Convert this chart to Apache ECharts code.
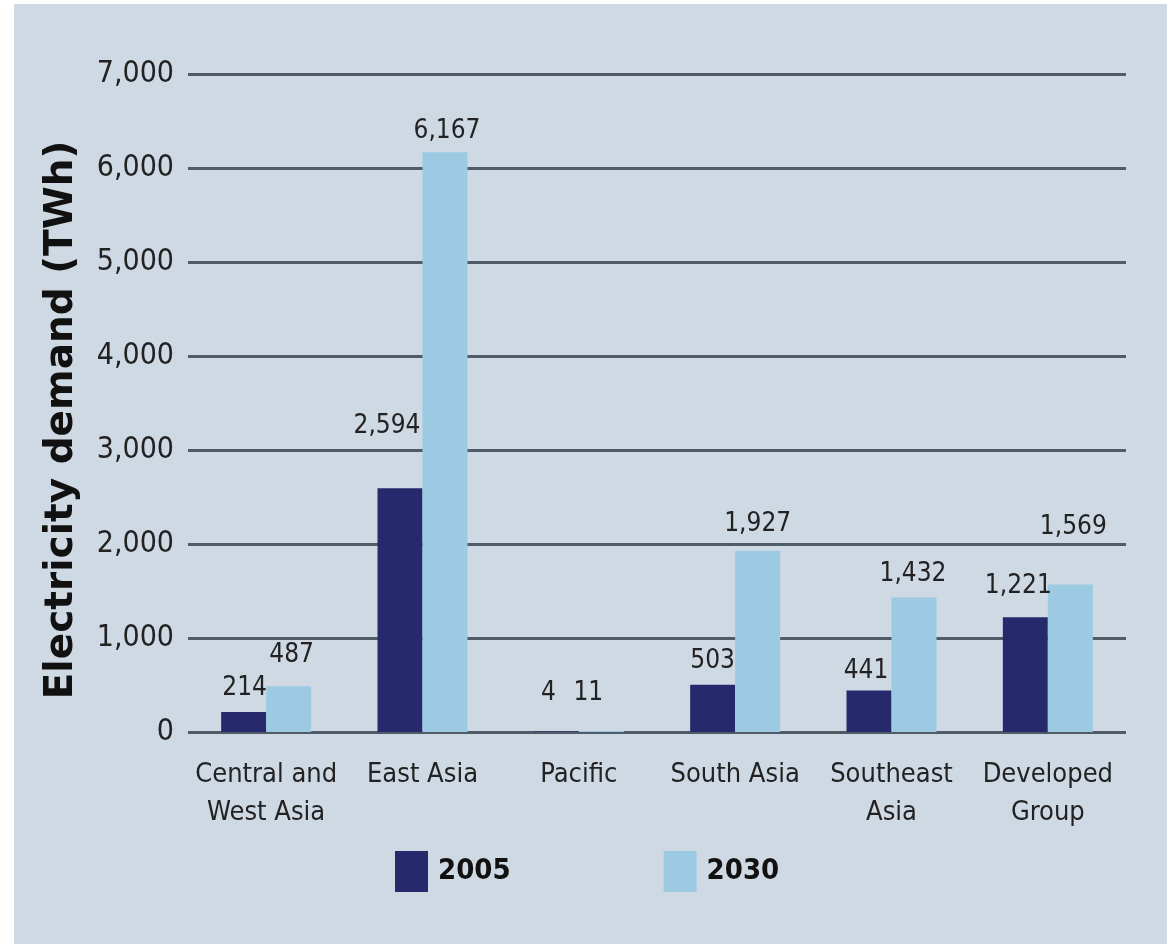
<!DOCTYPE html>
<html>
<head>
<meta charset="utf-8">
<title>Electricity demand by subregion, 2005 and 2030</title>
<script src="https://cdn.jsdelivr.net/npm/echarts@6/dist/echarts.min.js"></script>
<style>
  html, body { margin: 0; padding: 0; background: #ffffff; }
  #chart { position: absolute; left: 14px; top: 4px; width: 1153px; height: 940px; }
</style>
</head>
<body>
<div id="chart"></div>
<script>
// Subregions and electricity demand (TWh)
const regions = ['Central and\nWest Asia', 'East Asia', 'Pacific', 'South Asia', 'Southeast\nAsia', 'Developed\nGroup'];
const demand2005 = [214, 2594, 4, 503, 441, 1221];
const demand2030 = [487, 6167, 11, 1927, 1432, 1569];
const yTicks = [0, 1000, 2000, 3000, 4000, 5000, 6000, 7000];

// Small nudges [dx, dy] for the value labels so they sit clear of the bars
const labelNudge2005 = [[1, -6], [-13, -44], [-8, -20], [0, -5], [-3, -1], [-7, -13]];
const labelNudge2030 = [[3, -13], [2, -3], [-13, -20], [0, -9], [-1, -5], [3, -39]];

const NARROW = "'Liberation Sans Narrow', 'Arial Narrow', 'DejaVu Sans Condensed', sans-serif";
const fmt = v => Number(v).toLocaleString('en-US');

function seriesData(values, nudges) {
  return values.map((v, i) => ({
    value: v,
    label: { offset: nudges[i] }
  }));
}

const chart = echarts.init(document.getElementById('chart'));
chart.setOption({
  backgroundColor: '#cfd9e4',
  animation: false,
  grid: { left: 174, right: 41, top: 70, bottom: 212, containLabel: false },
  graphic: [{
    type: 'text',
    x: 48,
    y: 416,
    rotation: Math.PI / 2,
    style: {
      text: 'Electricity demand (TWh)',
      fontFamily: "'DejaVu Sans', sans-serif",
      fontWeight: 'bold',
      fontSize: 39,
      fill: '#111111',
      align: 'center',
      verticalAlign: 'middle'
    }
  }],
  legend: {
    left: 381,
    top: 847,
    padding: 0,
    itemWidth: 33,
    itemHeight: 41,
    itemGap: 153,
    icon: 'rect',
    textStyle: {
      fontFamily: NARROW,
      fontSize: 29,
      fontWeight: 'bold',
      color: '#111111',
      padding: [0, 0, 0, 5]
    },
    data: ['2005', '2030']
  },
  xAxis: {
    type: 'category',
    data: regions,
    axisLine: { show: false },
    axisTick: { show: false },
    axisLabel: {
      interval: 0,
      margin: 24,
      fontFamily: NARROW,
      fontSize: 27,
      lineHeight: 38,
      color: '#222222'
    }
  },
  yAxis: {
    type: 'value',
    min: yTicks[0],
    max: yTicks[yTicks.length - 1],
    interval: yTicks[1] - yTicks[0],
    axisLine: { show: false },
    axisTick: { show: false },
    axisLabel: {
      margin: 14,
      fontFamily: NARROW,
      fontSize: 30,
      color: '#222222',
      formatter: v => fmt(v)
    },
    splitLine: { show: true, lineStyle: { color: '#4f5b66', width: 3 } }
  },
  series: [
    {
      name: '2005',
      type: 'bar',
      barWidth: 45,
      barGap: '0%',
      itemStyle: { color: '#262a6c' },
      label: {
        show: true,
        position: 'top',
        distance: 5,
        fontFamily: NARROW,
        fontSize: 26,
        color: '#222222',
        formatter: p => fmt(p.value)
      },
      data: seriesData(demand2005, labelNudge2005)
    },
    {
      name: '2030',
      type: 'bar',
      barWidth: 45,
      barGap: '0%',
      itemStyle: { color: '#9dcae3' },
      label: {
        show: true,
        position: 'top',
        distance: 5,
        fontFamily: NARROW,
        fontSize: 26,
        color: '#222222',
        formatter: p => fmt(p.value)
      },
      data: seriesData(demand2030, labelNudge2030)
    }
  ]
});
</script>
</body>
</html>
